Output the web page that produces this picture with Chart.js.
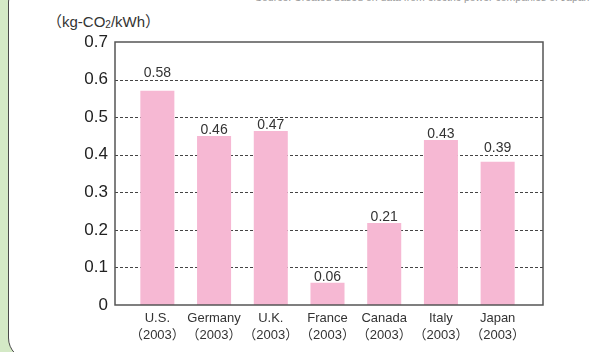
<!DOCTYPE html>
<html>
<head>
<meta charset="utf-8">
<script src="https://cdn.jsdelivr.net/npm/chart.js@4"></script>
<style>
    body { margin: 0; width: 610px; height: 352px; overflow: hidden; background: #d4e9c6; position: relative; font-family: 'Liberation Sans', 'Noto Sans CJK JP', sans-serif; }
    #panel { position: absolute; left: 8px; top: -20px; width: 700px; height: 380px; box-sizing: border-box; background: #fff; border: 1.5px solid #4a4a4a; border-radius: 22px; }
    #source { position: absolute; left: 255px; top: -9px; font-size: 10.5px; color: #999; white-space: nowrap; }
    #unit { position: absolute; left: 47px; top: 10px; font-size: 15px; color: #333; white-space: nowrap; }
    #unit sub { font-size: 10px; vertical-align: -1px; }
    #chart { position: absolute; left: 0; top: 0; }
</style>
</head>
<body>
<div id="panel"></div>
<div id="source">Source: Created based on data from electric power companies of Japan</div>
<div id="unit">（kg-CO<sub>2</sub>/kWh）</div>
<canvas id="chart" width="610" height="352"></canvas>
<script>
const countries = ['U.S.', 'Germany', 'U.K.', 'France', 'Canada', 'Italy', 'Japan'];
const years = ['2003', '2003', '2003', '2003', '2003', '2003', '2003'];
const values = [0.57, 0.45, 0.463, 0.059, 0.218, 0.439, 0.381];
const valueLabels = ['0.58', '0.46', '0.47', '0.06', '0.21', '0.43', '0.39'];
const yTickLabels = ['0', '0.1', '0.2', '0.3', '0.4', '0.5', '0.6', '0.7'];
const yMax = 0.7;

const fontFamily = "'Liberation Sans', 'Noto Sans CJK JP', sans-serif";

// dashed grid, frame and value labels
const framePlugin = {
    id: 'frame',
    beforeDatasetsDraw(chart) {
        const { ctx, chartArea: a, scales: { y } } = chart;
        const left = a.left - 14, right = a.right + 17;
        ctx.save();
        ctx.setLineDash([3, 2]);
        ctx.strokeStyle = '#444';
        ctx.lineWidth = 1;
        y.ticks.forEach(t => {
            if (t.value <= 0 || t.value >= yMax) return;
            const py = Math.round(y.getPixelForValue(t.value)) + 0.5;
            ctx.beginPath();
            ctx.moveTo(left, py);
            ctx.lineTo(right, py);
            ctx.stroke();
        });
        ctx.restore();
    },
    afterDatasetsDraw(chart) {
        const { ctx, chartArea: a, scales: { y } } = chart;
        const left = a.left - 14, right = a.right + 17;
        ctx.save();
        ctx.strokeStyle = '#555';
        ctx.lineWidth = 1.5;
        ctx.strokeRect(left, a.top, right - left, a.bottom - a.top);

        const grids = y.ticks.filter(t => t.value > 0 && t.value < yMax).map(t => y.getPixelForValue(t.value));
        ctx.font = '14px ' + fontFamily;
        ctx.fillStyle = '#333';
        ctx.textAlign = 'center';
        ctx.textBaseline = 'alphabetic';
        chart.getDatasetMeta(0).data.forEach((bar, i) => {
            let bottom = bar.y - 2;
            grids.forEach(gy => {
                if (gy > bottom - 11 && gy < bottom) bottom = gy - 3;
            });
            ctx.fillText(valueLabels[i], bar.x, bottom);
        });
        ctx.restore();
    }
};

new Chart(document.getElementById('chart'), {
    type: 'bar',
    data: {
        labels: countries.map((c, i) => [c, '（' + years[i] + '）']),
        datasets: [{
            data: values,
            backgroundColor: '#f6b8d3',
            barPercentage: 0.6,
            categoryPercentage: 1
        }]
    },
    options: {
        responsive: false,
        animation: false,
        layout: { padding: { left: 0, right: 84, top: 42, bottom: 0 } },
        plugins: { legend: { display: false }, tooltip: { enabled: false } },
        scales: {
            x: {
                grid: { display: false, drawTicks: false },
                border: { display: false },
                ticks: {
                    color: '#333',
                    font: { family: fontFamily, size: 13, lineHeight: 1.3 },
                    padding: 5,
                    maxRotation: 0,
                    autoSkip: false
                },
                afterFit(scale) { scale.height = 47; }
            },
            y: {
                min: 0,
                max: yMax,
                grid: { display: false, drawTicks: false },
                border: { display: false },
                ticks: {
                    stepSize: 0.1,
                    color: '#222',
                    font: { family: fontFamily, size: 17 },
                    padding: 21,
                    callback: (v, i) => yTickLabels[i]
                },
                afterFit(scale) { scale.width = 129; }
            }
        }
    },
    plugins: [framePlugin]
});
</script>
</body>
</html>
